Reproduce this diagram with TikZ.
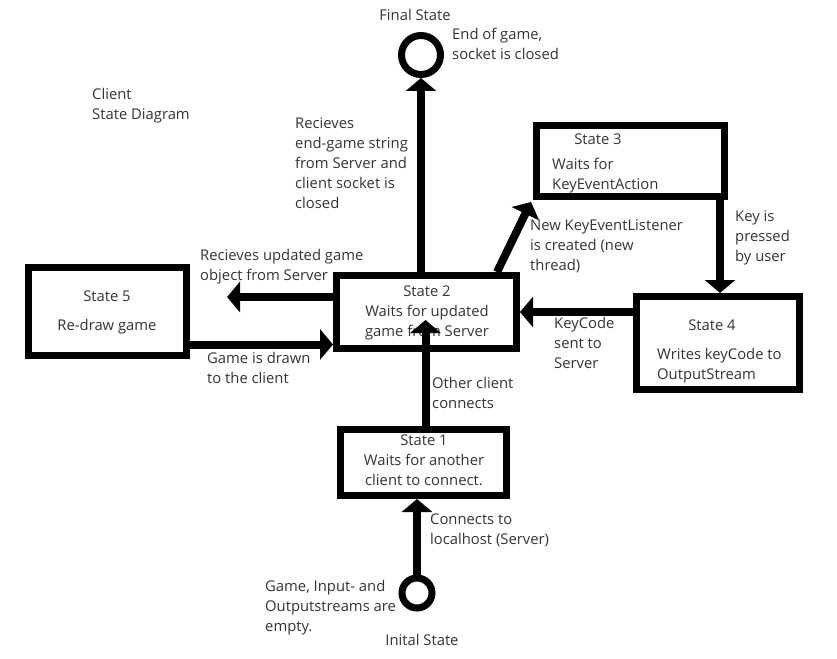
\documentclass[tikz,border=0pt]{standalone}
\usepackage{fontspec}
\setmainfont{Open Sans}
\usepackage{tikz}
\usetikzlibrary{arrows.meta}
\definecolor{gristexte}{HTML}{333333}
\begin{document}
\begin{tikzpicture}[x=1pt,y=-1pt]
% définition des paramètres
\tikzstyle boiteetat=[draw=black,line width=7pt,rectangle,inner sep=0pt]
\tikzstyle rondetat=[draw=black,line width=7pt,circle,inner sep=0pt]
\tikzstyle flecheetat=[draw=black,line width=8pt,-{Triangle[width=30pt,length=13pt]}]
\tikzstyle texteetat=[text=gristexte,font=\fontsize{14.8}{20}\selectfont,inner sep=0pt,align=left]
\useasboundingbox (0,0) rectangle (837,658);
% les textes
\node[texteetat] (titrefin) at (415,15) {Final State};
\node[texteetat,anchor=north west] (notefin) at (452,28) {End of game,\\socket is closed};
\node[texteetat,anchor=north west] (titre) at (92,88) {Client\\State Diagram};
\node[texteetat,anchor=north west] (notefermer) at (295,117) {Recieves\\end-game string\\from Server and\\client socket is\\closed};
\node[texteetat] (titre3) at (598,139) {State 3};
\node[texteetat,anchor=north west] (texte3) at (552,158) {Waits for\\KeyEventAction};
\node[texteetat,anchor=north west] (noteecoute) at (530,219) {New KeyEventListener\\is created (new\\thread)};
\node[texteetat,anchor=north west] (notetouche) at (735,210) {Key is\\pressed\\by user};
\node[texteetat,anchor=north west] (noterecu) at (200,249) {Recieves updated game\\object from Server};
\node[texteetat] (titre5) at (107,296) {State 5};
\node[texteetat] (texte5) at (107,327) {Re-draw game};
\node[texteetat,align=center,anchor=north] (texte2) at (427,286) {State 2\\Waits for updated\\game from Server};
\node[texteetat,anchor=north west] (noteenvoi) at (554,317) {KeyCode\\sent to\\Server};
\node[texteetat] (titre4) at (712,325) {State 4};
\node[texteetat,anchor=north west] (texte4) at (657,348) {Writes keyCode to\\OutputStream};
\node[texteetat,anchor=north west] (notedessin) at (207,352) {Game is drawn\\to the client};
\node[texteetat,anchor=north west] (noteautre) at (432,377) {Other client\\connects};
\node[texteetat,align=center,anchor=north] (texte1) at (424,435) {State 1\\Waits for another\\client to connect.};
\node[texteetat,anchor=north west] (noteconnexion) at (430,514) {Connects to\\localhost (Server)};
\node[texteetat,anchor=north west] (notevide) at (265,580) {Game, Input- and\\Outputstreams are\\empty.};
\node[texteetat] (titreinit) at (422,640) {Inital State};
% les états
\node[boiteetat,minimum width=180pt,minimum height=73pt] (s2) at (426.5,312) {};
\node[boiteetat,minimum width=188pt,minimum height=71pt] (s3) at (630.5,161) {};
\node[boiteetat,minimum width=158pt,minimum height=88pt] (s5) at (107.5,311.5) {};
\node[boiteetat,minimum width=163pt,minimum height=93pt] (s4) at (718,343) {};
\node[boiteetat,minimum width=166pt,minimum height=66pt] (s1) at (423.5,462.5) {};
\node[rondetat,minimum size=30pt] (init) at (417,593) {};
\node[rondetat,minimum size=39pt] (fin) at (421,55) {};
\coordinate (recu) at (227,297);
% les flèches
\draw[flecheetat] (init.north) -- (init.north |- s1.south);
\draw[flecheetat] ([xshift=2pt]s1.north) -- ([xshift=2pt,yshift=-8pt]s1.north |- s2.center);
\draw[flecheetat] (fin.south |- s2.north) -- (fin.south);
\draw[flecheetat] ([xshift=-23pt]s2.north east) -- ([xshift=-2pt,yshift=-2pt]s3.south west);
\draw[flecheetat] ([xshift=2pt]s4.north |- s3.south) -- ([xshift=2pt]s4.north);
\draw[flecheetat] (s4.west |- s2.east) -- (s2.east);
\draw[flecheetat] (s2.west |- recu) -- (recu);
\draw[flecheetat] ([yshift=-33pt]s5.east) -- ([yshift=-33pt]s5.east -| s2.west);
\end{tikzpicture}
\end{document}
